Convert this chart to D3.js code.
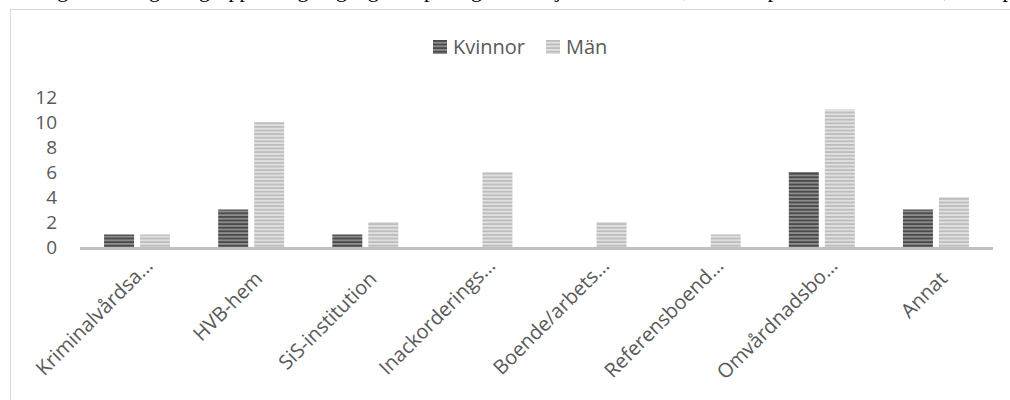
<!DOCTYPE html>
<meta charset="utf-8">
<script src="https://d3js.org/d3.v7.min.js"></script>
<style>
  body { margin: 0; background: #fff; }
  svg { display: block; }
</style>
<div id="chart"></div>
<script>
  // data
  const categories = ["Kriminalvårdsa…", "HVB-hem", "SiS-institution", "Inackorderings…",
                      "Boende/arbets…", "Referensboend…", "Omvårdnadsbo…", "Annat"];
  const seriesNames = ["Kvinnor", "Män"];
  const kvinnor = [1, 3, 1, 0, 0, 0, 6, 3];
  const man = [1, 10, 2, 6, 2, 1, 11, 4];
  const yTicks = [0, 2, 4, 6, 8, 10, 12];
  const topLine = "Fråga: Har någon i gruppen någon gång bott på något av följande boenden, fördelat på kvinnor och män, antal personer som";

  const W = 1010, H = 400;
  const svg = d3.select("#chart").append("svg")
      .attr("width", W).attr("height", H);

  // stripe patterns
  const defs = svg.append("defs");
  function stripes(id, base, line) {
    const p = defs.append("pattern")
        .attr("id", id)
        .attr("patternUnits", "userSpaceOnUse")
        .attr("width", 4).attr("height", 3.6);
    p.append("rect").attr("width", 4).attr("height", 3.6).attr("fill", base);
    p.append("rect").attr("width", 4).attr("height", 1.8).attr("fill", line);
  }
  stripes("pK", "#8c8c8c", "#4a4a4a");
  stripes("pM", "#e0e0e0", "#bdbdbd");
  const fills = ["url(#pK)", "url(#pM)"];

  // cut-off document text above the chart (only the lower edge is in view)
  svg.append("text")
      .attr("x", 28).attr("y", -3)
      .attr("font-family", "Liberation Serif, serif")
      .attr("font-size", 22)
      .attr("fill", "#000")
      .text(topLine);

  // chart frame
  svg.append("rect")
      .attr("x", 10.5).attr("y", 9.5)
      .attr("width", 1100).attr("height", 500)
      .attr("fill", "#fff")
      .attr("stroke", "#d9d9d9");

  const x = d3.scaleBand().domain(categories).range([80, 993]);
  const y = d3.scaleLinear().domain([0, 12]).range([247, 97]);
  const barW = 30, gap = 6;

  const font = "Open Sans, sans-serif";

  // y tick labels
  svg.append("g").selectAll("text")
    .data(yTicks).join("text")
      .attr("x", 57)
      .attr("y", d => y(d))
      .attr("dy", "0.35em")
      .attr("text-anchor", "end")
      .attr("font-family", font)
      .attr("font-size", 19)
      .attr("fill", "#595959")
      .text(d => d);

  // bars
  const series = [kvinnor, man];
  series.forEach((vals, s) => {
    svg.append("g").selectAll("rect")
      .data(vals).join("rect")
        .attr("x", (d, i) => x(categories[i]) + x.bandwidth() / 2 + (s === 0 ? -gap / 2 - barW : gap / 2))
        .attr("y", d => y(d))
        .attr("width", d => d > 0 ? barW : 0)
        .attr("height", d => y(0) - y(d))
        .attr("fill", fills[s]);
  });

  // category axis line
  svg.append("line")
      .attr("x1", x.range()[0]).attr("x2", x.range()[1])
      .attr("y1", y(0) + 1.5).attr("y2", y(0) + 1.5)
      .attr("stroke", "#bfbfbf")
      .attr("stroke-width", 3);

  // rotated category labels
  svg.append("g").selectAll("text")
    .data(categories).join("text")
      .attr("transform", d => {
        const cx = x(d) + x.bandwidth() / 2;
        const cut = d.endsWith("…");
        return `translate(${cx + (cut ? 17 : 12.5)},${cut ? 267 : 280}) rotate(-45)`;
      })
      .attr("text-anchor", "end")
      .attr("font-family", font)
      .attr("font-size", 20)
      .attr("fill", "#595959")
      .text(d => d);

  // legend
  const legendX = [433, 546];
  const legend = svg.append("g").selectAll("g")
    .data(seriesNames).join("g")
      .attr("transform", (d, i) => `translate(${legendX[i]},40)`);
  legend.append("rect")
      .attr("width", 14).attr("height", 14)
      .attr("fill", (d, i) => fills[i]);
  legend.append("text")
      .attr("x", 20).attr("y", 7)
      .attr("dy", "0.35em")
      .attr("font-family", font)
      .attr("font-size", 20)
      .attr("fill", "#595959")
      .text(d => d);
</script>
